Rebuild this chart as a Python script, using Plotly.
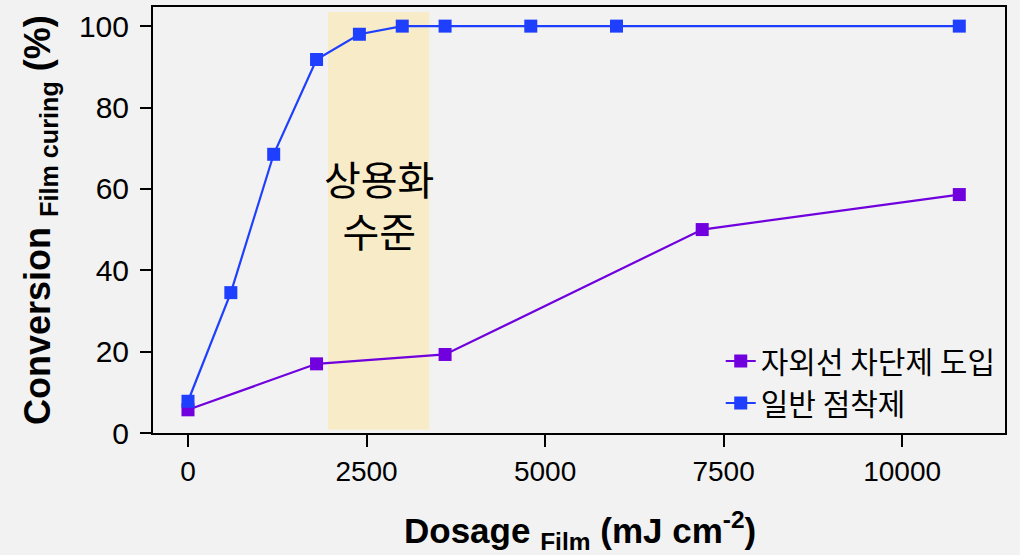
import plotly.graph_objects as go

# Data
x_general = [0, 600, 1200, 1800, 2400, 3000, 3600, 4800, 6000, 10800]
y_general = [7.8, 34.5, 68.5, 91.8, 98.0, 100, 100, 100, 100, 100]
x_uv = [0, 1800, 3600, 7200, 10800]
y_uv = [5.7, 17.0, 19.3, 50.0, 58.6]
name_uv = "자외선 차단제 도입"
name_general = "일반 점착제"
band_x = [1960, 3380]
band_y = [0.8, 103.5]
band_label = "상용화<br>수준"
x_ticks = [0, 2500, 5000, 7500, 10000]
x_ticktext = ["0", "2500", "5000", "7500", "10000"]
y_ticks = [0, 20, 40, 60, 80, 100]

FONT = "Arial, Liberation Sans, Noto Sans CJK KR, sans-serif"
KFONT = "Noto Sans CJK KR, sans-serif"
BG = "#F2F2F2"
PURPLE = "#7000DD"
BLUE = "#1F3FFF"

W, H = 1020, 555
ML, MR, MT, MB = 153, 15, 7, 122


def px_x(v):
    return (v - ML) / (W - ML - MR)


def px_y(v):
    return (H - MB - v) / (H - MT - MB)


fig = go.Figure()
fig.add_shape(type="rect", xref="x", yref="y", x0=band_x[0], x1=band_x[1],
              y0=band_y[0], y1=band_y[1], fillcolor="#F8ECC8", line_width=0, layer="below")
fig.add_trace(go.Scatter(x=x_uv, y=y_uv, name=name_uv, mode="lines+markers",
                         line=dict(color=PURPLE, width=2.2),
                         marker=dict(symbol="square", size=13, color=PURPLE)))
fig.add_trace(go.Scatter(x=x_general, y=y_general, name=name_general, mode="lines+markers",
                         line=dict(color=BLUE, width=2.2),
                         marker=dict(symbol="square", size=13, color=BLUE)))
fig.add_annotation(x=sum(band_x) / 2, y=56.3, xref="x", yref="y", text=band_label,
                   showarrow=False, font=dict(family=KFONT, size=40, color="black"))
# axis titles
fig.add_annotation(x=px_x(40), y=px_y(220), xref="paper", yref="paper",
                   xanchor="center", yanchor="middle",
                   text="<b>Conversion <sub>Film curing</sub> (%)</b>",
                   showarrow=False, textangle=-90, font=dict(family=FONT, size=36, color="black"))
fig.add_annotation(x=px_x(580), y=px_y(530), xref="paper", yref="paper",
                   xanchor="center", yanchor="middle",
                   text="<b>Dosage <sub>Film</sub> (mJ cm<sup>-2</sup>)</b>",
                   showarrow=False, font=dict(family=FONT, size=35, color="black"))

fig.update_layout(
    width=W, height=H,
    paper_bgcolor=BG, plot_bgcolor=BG,
    margin=dict(l=ML, r=MR, t=MT, b=MB, autoexpand=False),
    font=dict(family=FONT, color="black"),
    showlegend=True,
    legend=dict(x=0.995, y=0.23, xanchor="right", yanchor="top",
                bgcolor="rgba(0,0,0,0)", font=dict(family=KFONT, size=30),
                tracegroupgap=0),
)
fig.update_xaxes(range=[-490, 11440], tickvals=x_ticks, ticktext=x_ticktext, ticks="outside", ticklen=12,
                 tickwidth=2, tickcolor="black", showline=True, linecolor="black",
                 linewidth=2, mirror=True, showgrid=False, zeroline=False,
                 tickfont=dict(size=28), automargin=False)
fig.update_yaxes(range=[0, 104.7], tickvals=y_ticks, ticks="outside", ticklen=11,
                 tickwidth=2, tickcolor="black", showline=True, linecolor="black",
                 linewidth=2, mirror=True, showgrid=False, zeroline=False,
                 tickfont=dict(size=30), ticklabelstandoff=5, automargin=False)

fig.write_html("out.html", config={"displayModeBar": False},
               post_script="document.body.style.margin='0';document.body.style.background='#F2F2F2';")
